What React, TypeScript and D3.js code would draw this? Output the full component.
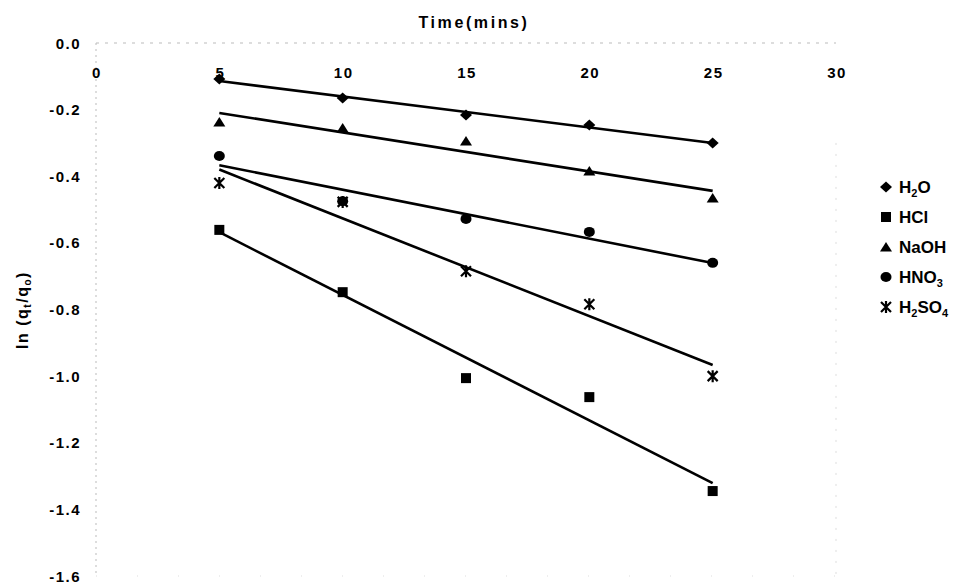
import React from "react";
import * as d3 from "d3";

// Desorption kinetics: ln(qt/qo) against time for each eluent
const times = [5, 10, 15, 20, 25];
const seriesNames = ["H2O", "HCl", "NaOH", "HNO3", "H2SO4"];
const h2o = [-0.108, -0.165, -0.216, -0.246, -0.3];
const hcl = [-0.561, -0.748, -1.006, -1.063, -1.345];
const naoh = [-0.237, -0.255, -0.294, -0.384, -0.465];
const hno3 = [-0.339, -0.475, -0.528, -0.567, -0.66];
const h2so4 = [-0.42, -0.477, -0.685, -0.784, -1.0];
const xTicks = [0, 5, 10, 15, 20, 25, 30];
const yTicks = [0, -0.2, -0.4, -0.6, -0.8, -1.0, -1.2, -1.4, -1.6];

const W = 955;
const H = 583;
const FONT = "'Liberation Sans', Arial, sans-serif";

const x = d3.scaleLinear().domain([0, 30]).range([96, 836]);
const y = d3.scaleLinear().domain([-1.6, 0]).range([576, 43]);

type Shape = "diamond" | "square" | "triangle" | "circle" | "star";
const shapes: Shape[] = ["diamond", "square", "triangle", "circle", "star"];
const values = [h2o, hcl, naoh, hno3, h2so4];

// least-squares trend line through one series
function fitLine(xs: number[], ys: number[]) {
  const mx = d3.mean(xs)!;
  const my = d3.mean(ys)!;
  let num = 0;
  let den = 0;
  xs.forEach((v, i) => {
    num += (v - mx) * (ys[i] - my);
    den += (v - mx) * (v - mx);
  });
  const slope = num / den;
  return (t: number) => my + slope * (t - mx);
}

function Marker({ shape, cx, cy }: { shape: Shape; cx: number; cy: number }) {
  switch (shape) {
    case "diamond":
      return <path d={`M${cx - 6},${cy}L${cx},${cy - 5.5}L${cx + 6},${cy}L${cx},${cy + 5.5}Z`} fill="#000" />;
    case "square":
      return <rect x={cx - 5} y={cy - 5} width={10} height={10} fill="#000" />;
    case "triangle":
      return <path d={`M${cx - 6},${cy + 4.5}L${cx},${cy - 5}L${cx + 6},${cy + 4.5}Z`} fill="#000" />;
    case "circle":
      return <ellipse cx={cx} cy={cy} rx={5.5} ry={5} fill="#000" />;
    case "star": {
      const r = 5;
      const d = `M${cx - r},${cy - r}L${cx + r},${cy + r}M${cx - r},${cy + r}L${cx + r},${cy - r}M${cx},${cy - r - 1}L${cx},${cy + r + 1}`;
      return <path d={d} stroke="#000" strokeWidth={2.2} fill="none" />;
    }
  }
}

function ChemLabel({ name }: { name: string }) {
  const chars = Array.from(name);
  return (
    <>
      {chars.map((ch, i) => {
        const sub = /[0-9]/.test(ch);
        const prevSub = i > 0 && /[0-9]/.test(chars[i - 1]);
        return sub ? (
          <tspan key={i} fontSize={11} dy={4}>{ch}</tspan>
        ) : (
          <tspan key={i} dy={prevSub ? -4 : 0}>{ch}</tspan>
        );
      })}
    </>
  );
}

export default function App() {
  return (
    <svg width={W} height={H} style={{ position: "absolute", left: 0, top: 0, background: "#fff" }} fontFamily={FONT}>
      <rect width={W} height={H} fill="#fff" />

      {/* faint plot frame */}
      <line x1={x(0)} x2={x(30)} y1={y(0)} y2={y(0)} stroke="#bbb" strokeWidth={1} strokeDasharray="3 6" />
      <line x1={x(0)} x2={x(0)} y1={y(0)} y2={y(-1.6)} stroke="#bbb" strokeWidth={1} strokeDasharray="2 4" />
      <line x1={x(30)} x2={x(30)} y1={y(-0.3)} y2={y(-1.6)} stroke="#ddd" strokeWidth={1} strokeDasharray="2 9" />
      <line x1={x(0)} x2={x(30)} y1={y(-1.6)} y2={y(-1.6)} stroke="#ddd" strokeWidth={1} strokeDasharray="1 40" />

      {/* title of the time axis */}
      <text x={474} y={28} textAnchor="middle" fontSize={16} fontWeight="bold" letterSpacing={2.6}>
        Time(mins)
      </text>

      {/* x tick labels */}
      {xTicks.map((t) => (
        <text key={t} x={x(t) + 1} y={78} textAnchor="middle" fontSize={15} fontWeight="bold" letterSpacing={1.5}>
          {t}
        </text>
      ))}

      {/* y tick labels */}
      {yTicks.map((t) => (
        <text key={t} x={81} y={y(t) + 5.5} textAnchor="end" fontSize={15} fontWeight="bold" letterSpacing={1.5}>
          {d3.format(".1f")(t).replace("−", "-")}
        </text>
      ))}

      {/* y axis title */}
      <text transform={`translate(28,310) rotate(-90)`} textAnchor="middle" fontSize={16} fontWeight="bold" letterSpacing={1.5}>
        ln (q<tspan fontSize={10} dy={3}>t</tspan>
        <tspan dy={-3}>/q</tspan>
        <tspan fontSize={10} dy={3}>o</tspan>
        <tspan dy={-3}>)</tspan>
      </text>

      {/* fitted lines */}
      {values.map((vals, i) => {
        const f = fitLine(times, vals);
        const ends = [times[0], times[times.length - 1]];
        const pts: [number, number][] = ends.map((t) => [x(t), y(f(t))]);
        return <path key={`l${i}`} d={d3.line()(pts)!} stroke="#000" strokeWidth={2.6} fill="none" />;
      })}

      {/* data markers */}
      {values.map((vals, i) =>
        vals.map((v, j) => <Marker key={`m${i}-${j}`} shape={shapes[i]} cx={x(times[j])} cy={y(v)} />)
      )}

      {/* legend */}
      {seriesNames.map((name, i) => {
        const ly = 187 + i * 30;
        return (
          <g key={name}>
            <Marker shape={shapes[i]} cx={886} cy={ly} />
            <text x={899} y={ly + 6} fontSize={17} fontWeight="bold">
              <ChemLabel name={name} />
            </text>
          </g>
        );
      })}
    </svg>
  );
}
